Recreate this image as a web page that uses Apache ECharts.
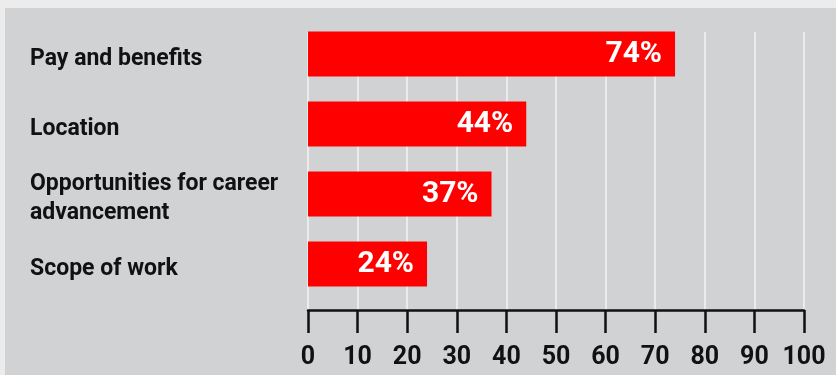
<!DOCTYPE html>
<html>
<head>
<meta charset="utf-8">
<script src="https://cdn.jsdelivr.net/npm/echarts@6/dist/echarts.min.js"></script>
<style>
  html, body { margin: 0; padding: 0; background: #ececec; }
  #panel { position: absolute; left: 5px; top: 8px; width: 831px; height: 367px; background: #d1d2d4; }
  #chart { position: absolute; left: 0; top: 0; width: 836px; height: 375px; }
</style>
</head>
<body>
<div id="panel"></div>
<div id="chart"></div>
<script>
const categories = ["Pay and benefits", "Location", "Opportunities for career\nadvancement", "Scope of work"];
const values = [74, 44, 37, 24];
const xTicks = [0, 10, 20, 30, 40, 50, 60, 70, 80, 90, 100];

const chart = echarts.init(document.getElementById('chart'), null, { renderer: 'canvas' });
const FONT = 'Roboto';
chart.setOption({
  backgroundColor: 'transparent',
  animation: false,
  grid: [
    { left: 308, right: 32, top: 32, bottom: 65 },   // axis + gridlines
    { left: 308, right: 32, top: 19, bottom: 76 },   // bars
    { left: 308, right: 32, top: 24, bottom: 71 }    // category labels
  ],
  xAxis: [
    {
      gridIndex: 0, type: 'value', min: xTicks[0], max: xTicks[xTicks.length - 1], interval: 10,
      axisLine: { show: true, lineStyle: { color: '#111', width: 2.5 } },
      axisTick: { show: true, length: 23, lineStyle: { color: '#111', width: 2.5 } },
      axisLabel: { color: '#111', fontFamily: FONT, fontWeight: 'bold', fontSize: 25, margin: 35 },
      splitLine: { show: true, lineStyle: { color: '#f3f3f3', width: 1.5 } }
    },
    { gridIndex: 1, type: 'value', min: xTicks[0], max: xTicks[xTicks.length - 1], show: false },
    { gridIndex: 2, type: 'value', min: xTicks[0], max: xTicks[xTicks.length - 1], show: false }
  ],
  yAxis: [
    { gridIndex: 0, type: 'category', data: categories, inverse: true, show: false },
    { gridIndex: 1, type: 'category', data: categories, inverse: true, show: false },
    {
      gridIndex: 2, type: 'category', data: categories, inverse: true,
      axisLine: { show: false }, axisTick: { show: false }, splitLine: { show: false },
      axisLabel: {
        align: 'left', margin: 278, color: '#111', fontFamily: FONT, fontWeight: 'bold',
        fontSize: 23, lineHeight: 29
      }
    }
  ],
  series: [{
    type: 'bar', xAxisIndex: 1, yAxisIndex: 1, data: values, barWidth: 45,
    itemStyle: { color: '#ff0000' },
    label: {
      show: true, position: 'insideRight', distance: 13, color: '#fff',
      fontFamily: FONT, fontWeight: 'bold', fontSize: 30,
      formatter: p => p.value + '%'
    }
  }]
});
</script>
</body>
</html>
